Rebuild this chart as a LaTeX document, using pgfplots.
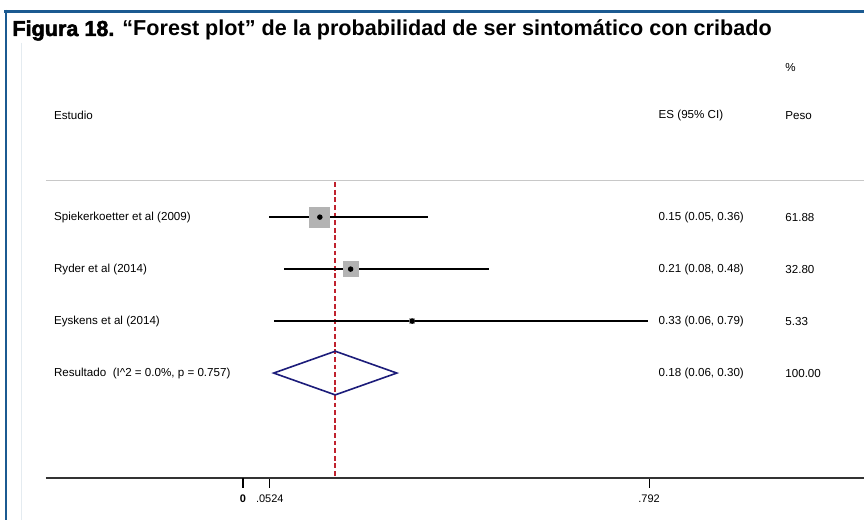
\documentclass[border=0pt]{standalone}
\usepackage{fontspec}
\setmainfont{Liberation Sans}
\usepackage{pgfplots}
\usepackage{pgfplotstable}
\pgfplotsset{compat=1.18}

\definecolor{framebl}{HTML}{1B5A91}
\definecolor{sqgray}{HTML}{B3B3B3}
\definecolor{dashred}{RGB}{192,34,46}
\definecolor{dianavy}{HTML}{1C1C7A}
\definecolor{hdrgray}{HTML}{C8C8C8}
\definecolor{faint}{HTML}{E4EBF0}

% study estimates, 95% CI and weights (%)
\pgfplotstableread{
y es lo hi w
4 0.15 0.05 0.36 61.88
3 0.21 0.08 0.48 32.80
2 0.33 0.06 0.79 5.33
}\studies

\newcommand{\sm}{\fontsize{5.8}{7}\selectfont}
\newcommand{\ttl}{\fontsize{10.8}{12}\selectfont\bfseries}

\begin{document}
\begin{tikzpicture}
\useasboundingbox (0,0) rectangle (432pt,260pt);
\fill[white] (0,0) rectangle (432pt,260pt);
% page frame
\draw[framebl, line width=1.5pt] (2.2pt,254.25pt) -- (432pt,254.25pt);
\draw[framebl, line width=1.3pt] (2.9pt,255pt) -- (2.9pt,0pt);
\draw[faint, line width=0.6pt] (10.6pt,238.5pt) -- (10.6pt,0pt);
% figure caption, the label set a little heavier
\node[anchor=base west, inner sep=0pt, font=\ttl] (lab) at (6pt,242pt)
  {\special{pdf:literal direct 2 Tr 0.25 w}Figura 18.\special{pdf:literal direct 0 Tr}};
\node[anchor=base west, inner sep=0pt, font=\ttl] at ([xshift=3.6pt]lab.base east)
  {“Forest plot” de la probabilidad de ser sintomático con cribado};

\begin{axis}[
  at={(23pt,21pt)}, anchor=south west,
  scale only axis, width=409pt, height=217.5pt,
  xmin=-0.384, xmax=1.211, ymin=-1.019, ymax=7.35,
  axis x line*=bottom, axis y line=none,
  axis line style={-, draw=black!80, line width=1pt},
  ytick=\empty,
  xtick={0.0524,0.792}, xticklabels={.0524,.792},
  extra x ticks={0}, extra x tick labels={\textbf{0}},
  extra x tick style={major tick style={line width=1pt}},
  tick align=outside, major tick length=5pt,
  major tick style={black, line width=0.5pt},
  ticklabel style={font=\fontsize{5.5}{6}\selectfont, text=black},
  clip=false,
]
% header rule and line of the pooled estimate
\addplot[draw=hdrgray, line width=0.6pt] coordinates {(-0.384,4.71) (1.211,4.71)};
\addplot[draw=dashred, line width=0.75pt, dash pattern=on 2.4pt off 1.4pt] coordinates {(0.18,4.67) (0.18,-1.019)};

% weight boxes
\addplot[only marks, mark=square*, mark size=5pt, color=sqgray] coordinates {(0.15,4)};
\addplot[only marks, mark=square*, mark size=3.8pt, color=sqgray] coordinates {(0.21,3)};
\addplot[only marks, mark=square*, mark size=1.3pt, color=sqgray] coordinates {(0.33,2)};

% confidence intervals and point estimates
\addplot[only marks, mark=*, mark size=1.15pt, black,
  error bars/.cd, x dir=both, x explicit, error mark=none,
  error bar style={line width=0.65pt, black}]
  table[x=es, y=y, x error plus expr=\thisrow{hi}-\thisrow{es},
        x error minus expr=\thisrow{es}-\thisrow{lo}] {\studies};

% pooled estimate diamond
\addplot[draw=dianavy, line width=0.8pt, line join=miter] coordinates {(0.06,1) (0.18,1.42) (0.30,1) (0.18,0.58)} -- cycle;

% text columns
\begin{scope}[every node/.style={anchor=west, inner sep=0pt, font=\sm}]
\node at (axis cs:1.057,6.885) {\%};
\node at (axis cs:-0.369,5.96) {Estudio};
\node at (axis cs:0.81,5.96) {ES (95\% CI)};
\node at (axis cs:1.057,5.96) {Peso};
\node at (axis cs:-0.369,4) {Spiekerkoetter et al (2009)};
\node at (axis cs:-0.369,3) {Ryder et al (2014)};
\node at (axis cs:-0.369,2) {Eyskens et al (2014)};
\node at (axis cs:-0.369,1) {Resultado\ \ (I\textasciicircum 2 = 0.0\%, p = 0.757)};
\node at (axis cs:0.81,4) {0.15 (0.05, 0.36)};
\node at (axis cs:0.81,3) {0.21 (0.08, 0.48)};
\node at (axis cs:0.81,2) {0.33 (0.06, 0.79)};
\node at (axis cs:0.81,1) {0.18 (0.06, 0.30)};
\node at (axis cs:1.057,4) {61.88};
\node at (axis cs:1.057,3) {32.80};
\node at (axis cs:1.057,2) {5.33};
\node at (axis cs:1.057,1) {100.00};
\end{scope}
\end{axis}
\end{tikzpicture}
\end{document}
